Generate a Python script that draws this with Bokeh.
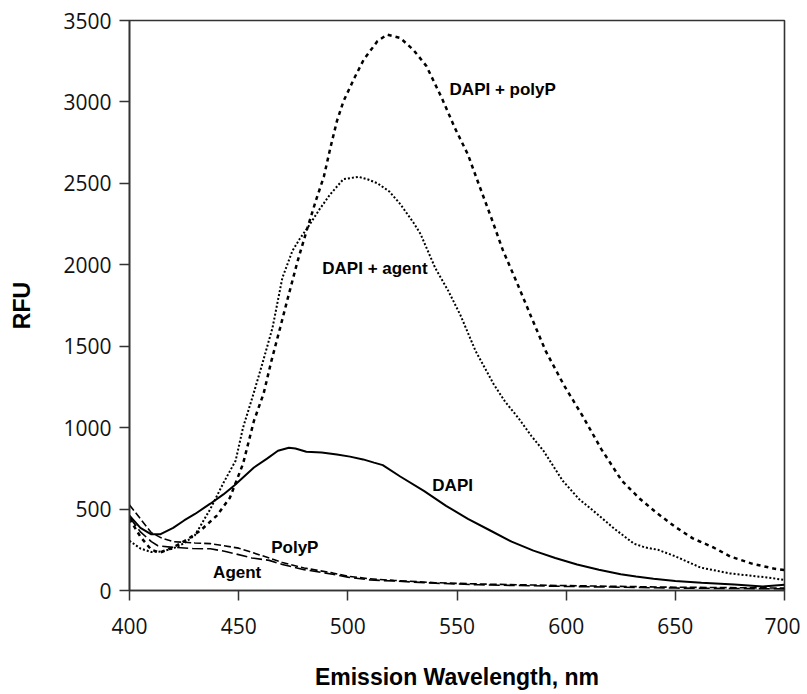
from bokeh.plotting import figure
from bokeh.models import Range1d, FixedTicker
from bokeh.core.properties import value
from bokeh.embed import file_html
from bokeh.resources import INLINE

# ---- data ----
dapi_x = [400, 405, 410, 414, 420, 425, 430, 437, 443, 448, 457, 463, 468, 473, 476, 481, 488, 495, 501,
          507, 512, 516, 524, 535, 545, 555, 565, 575, 585, 595, 605, 615, 625, 632, 640, 650, 662, 677, 690, 700]
dapi_y = [460, 385, 345, 345, 385, 430, 470, 533, 590, 645, 755, 810, 858, 877, 872, 852, 848, 835, 822,
          805, 785, 770, 700, 610, 520, 440, 370, 300, 245, 200, 160, 128, 100, 86, 72, 58, 48, 37, 25, 35]

agent_mix_x = [400, 405, 410, 415, 420, 425, 430, 437, 443, 448.6, 452, 456.8, 461, 465.5, 470, 474.6, 478,
               481.5, 487, 492, 498, 505, 509, 513.6, 519, 524, 530, 533.3, 540, 546, 551.6, 558.5, 566.7,
               572, 578, 584, 589.6, 598.4, 606, 614, 622, 631, 636, 642, 650, 661.5, 675, 692, 700]
agent_mix_y = [305, 258, 236, 240, 258, 290, 340, 500, 660, 797, 1000, 1208, 1400, 1613, 1919, 2085, 2160,
               2226, 2340, 2434, 2526, 2540, 2525, 2500, 2450, 2373, 2260, 2189, 1981, 1840, 1690, 1471, 1269,
               1160, 1061, 950, 858, 674, 560, 472, 380, 288, 265, 250, 210, 141, 105, 80, 65]

polyp_mix_x = [400, 405, 410, 414, 420, 426, 432.5, 440, 446, 452, 457, 461.4, 465, 469, 473, 477, 481.5,
               485.5, 489, 492, 495, 498, 503, 507.3, 513.5, 518, 524, 530, 536, 543, 549, 555, 560, 565.4,
               571, 577.7, 584, 590.6, 599, 608, 616, 625.5, 634, 641.9, 650, 658, 667.5, 675, 685, 695, 700]
polyp_mix_y = [440, 330, 250, 233, 265, 310, 368, 460, 570, 778, 1042, 1208, 1410, 1613, 1820, 2023, 2226,
               2400, 2540, 2718, 2882, 3004, 3147, 3260, 3372, 3413, 3393, 3320, 3220, 3025, 2841, 2677, 2494,
               2300, 2090, 1882, 1680, 1471, 1260, 1061, 870, 674, 560, 472, 390, 320, 264, 210, 165, 135, 125]

polyp_x = [400, 405, 410, 415, 420, 430, 437, 450, 464, 470, 480, 493, 500, 510, 521, 540, 560, 580, 600,
           650, 700]
polyp_y = [525, 440, 355, 320, 300, 292, 288, 260, 200, 172, 138, 108, 88, 72, 62, 48, 40, 35, 30, 20, 15]

agent_x = [400, 405, 410, 413, 420, 429, 437, 444, 456, 464, 470, 480, 493, 500, 510, 521, 540, 560, 600,
           650, 700]
agent_y = [450, 360, 300, 275, 265, 258, 256, 240, 200, 185, 160, 128, 100, 82, 65, 58, 45, 35, 25, 15, 10]

x_ticks = [400, 450, 500, 550, 600, 650, 700]
y_ticks = [0, 500, 1000, 1500, 2000, 2500, 3000, 3500]

label_text = ["DAPI + polyP", "DAPI + agent", "DAPI", "PolyP", "Agent"]
label_x = [546.6, 488.3, 538.7, 464.9, 438.3]
label_y = [3078, 1980, 645, 264, 108]

# ---- figure ----
p = figure(width=800, height=692, output_backend="svg", toolbar_location=None,
           x_range=Range1d(400, 700), y_range=Range1d(0, 3500),
           min_border_left=129, min_border_right=16, min_border_top=20, min_border_bottom=102)
p.background_fill_color = "white"
p.border_fill_color = "white"
p.xgrid.visible = False
p.ygrid.visible = False
p.outline_line_color = "#333333"
p.outline_line_width = 1.6

ink = "black"
p.line(polyp_mix_x, polyp_mix_y, line_color=ink, line_width=2.5, line_dash="4 4")
p.line(agent_mix_x, agent_mix_y, line_color=ink, line_width=2, line_dash="2 2")
p.line(dapi_x, dapi_y, line_color=ink, line_width=2)
p.line(polyp_x, polyp_y, line_color=ink, line_width=1.6, line_dash="7 3")
p.line(agent_x, agent_y, line_color=ink, line_width=1.6, line_dash="11 4")

p.text(x=label_x, y=label_y, text=label_text, text_font=value("Liberation Sans"),
       text_font_style="bold", text_font_size="17px", text_align="left",
       text_baseline="middle", text_color="black")

for ax in (p.xaxis[0], p.yaxis[0]):
    ax.axis_line_color = "#333333"
    ax.axis_line_width = 1.6
    ax.major_tick_line_color = "#333333"
    ax.major_tick_line_width = 1.5
    ax.major_tick_out = 10
    ax.major_tick_in = 0
    ax.minor_tick_line_color = None
    ax.major_label_text_font = "Open Sans"
    ax.major_label_text_font_size = "21px"
    ax.major_label_text_color = "#111111"
    ax.axis_label_text_font = "Liberation Sans"
    ax.axis_label_text_font_style = "bold"
    ax.axis_label_text_font_size = "23px"
    ax.axis_label_text_color = "black"

p.xaxis.ticker = FixedTicker(ticks=x_ticks)
p.yaxis.ticker = FixedTicker(ticks=y_ticks)
p.xaxis.axis_label = "Emission Wavelength, nm"
p.yaxis.axis_label = "RFU"
p.xaxis.major_label_standoff = 17
p.yaxis.major_label_standoff = 8
p.xaxis.axis_label_standoff = 27
p.yaxis.axis_label_standoff = 25

open("out.html", "w").write(file_html(p, INLINE))
